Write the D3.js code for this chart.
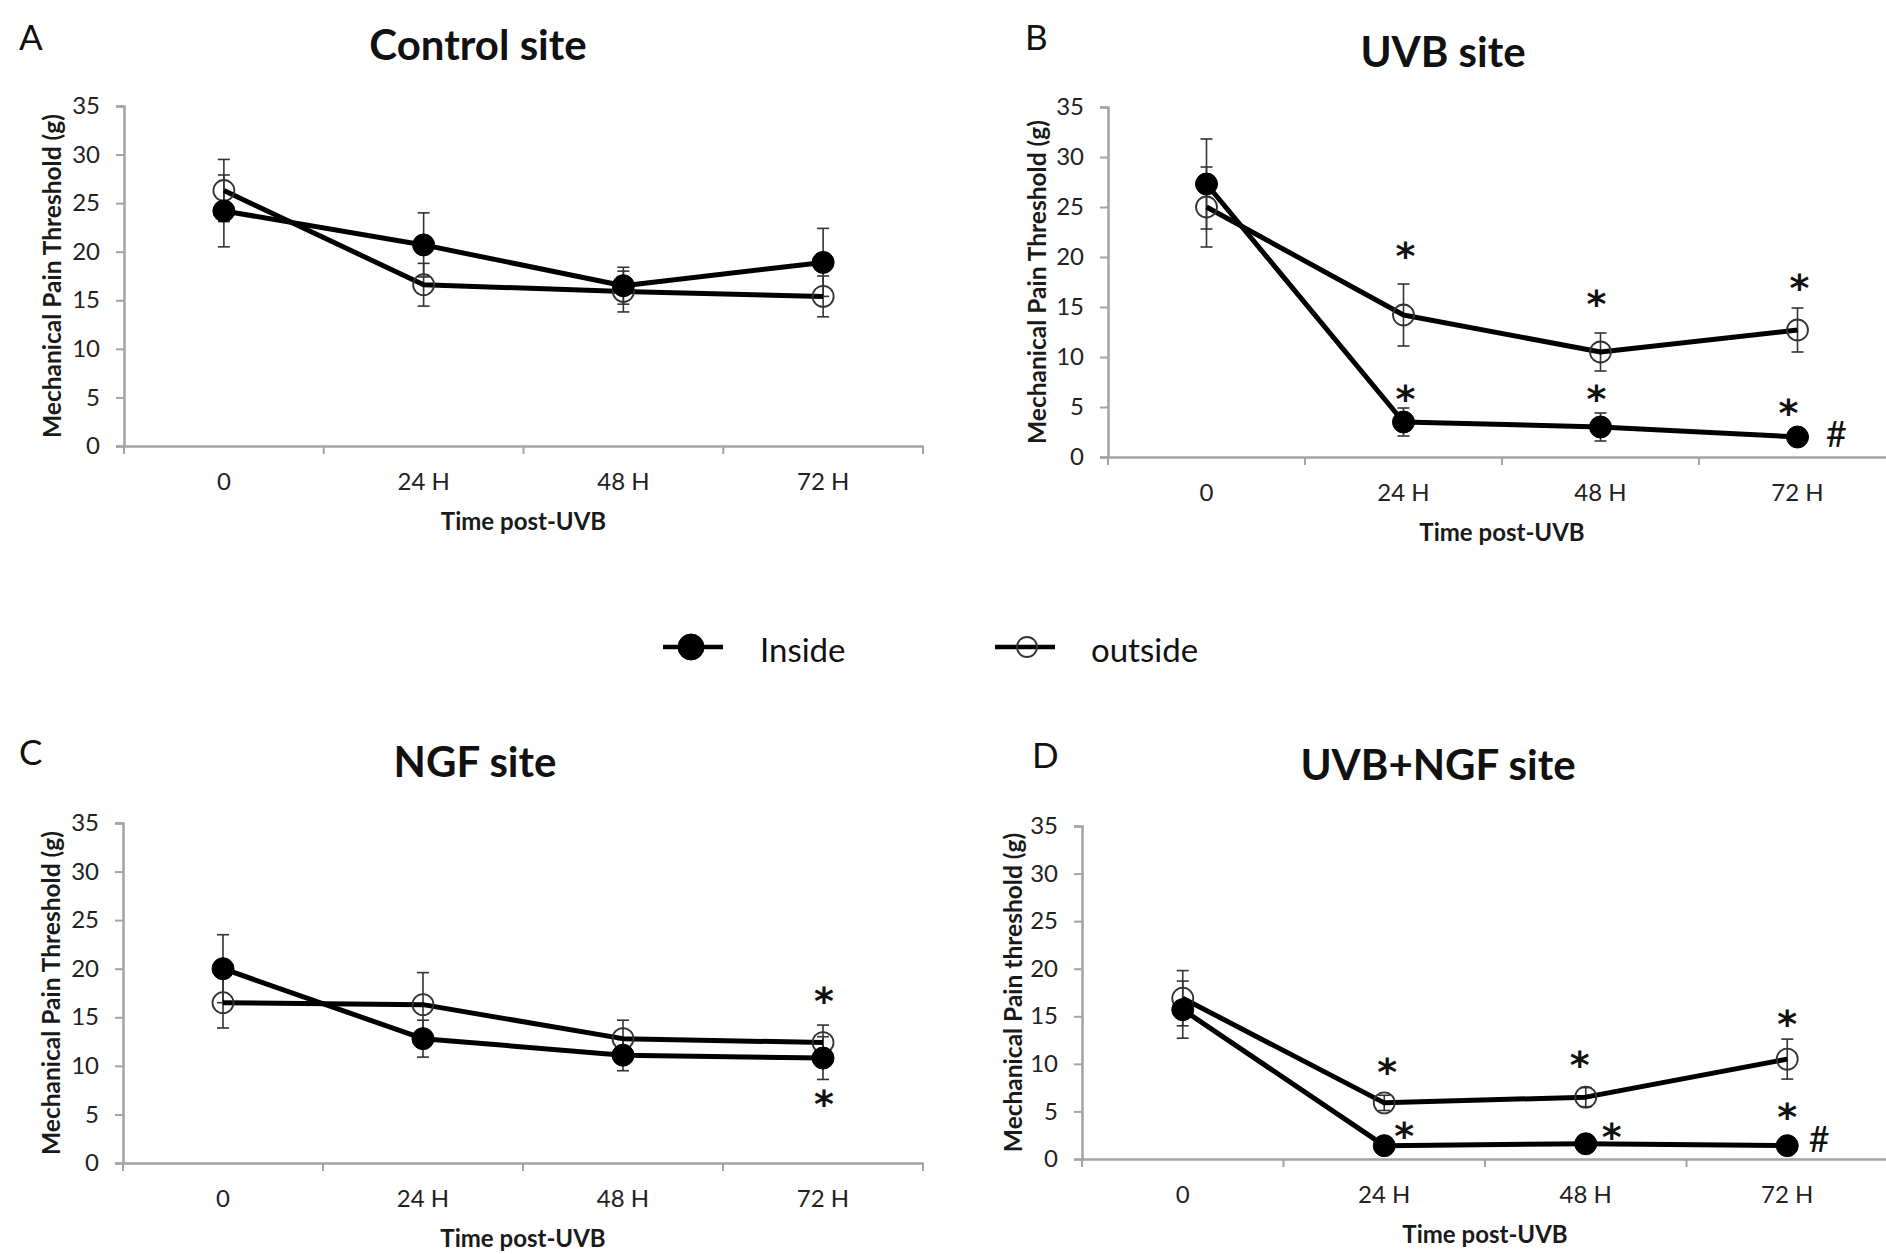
<!DOCTYPE html>
<html><head><meta charset="utf-8">
<script src="https://cdn.jsdelivr.net/npm/d3@7"></script>
<style>
html,body{margin:0;padding:0;background:#fff;}
svg{display:block;}
</style></head>
<body>
<svg id="chart" width="1886" height="1254"></svg>
<script>
// ---------------- DATA ----------------
const categories = ["0", "24 H", "48 H", "72 H"];
const yTicks = [0, 5, 10, 15, 20, 25, 30, 35];
const panelLetters = ["A", "B", "C", "D"];
const panelTitles = ["Control site", "UVB site", "NGF site", "UVB+NGF site"];
const yTitles = ["Mechanical Pain Threshold (g)", "Mechanical Pain Threshold (g)",
                 "Mechanical Pain Threshold (g)", "Mechanical Pain threshold (g)"];
const xTitle = "Time post-UVB";
const legendLabels = ["Inside", "outside"];

// Control site
const controlInside = [24.2, 20.7, 16.5, 18.9];
const controlInsideErr = [3.7, 3.3, 1.9, 3.5];
const controlOutside = [26.3, 16.6, 15.9, 15.4];
const controlOutsideErr = [3.2, 2.2, 2.1, 2.1];
// UVB site
const uvbInside = [27.3, 3.5, 3.0, 2.0];
const uvbInsideErr = [4.5, 1.4, 1.4, 0.5];
const uvbOutside = [25.0, 14.2, 10.5, 12.7];
const uvbOutsideErr = [4.0, 3.1, 1.9, 2.2];
// NGF site
const ngfInside = [20.0, 12.8, 11.1, 10.8];
const ngfInsideErr = [3.5, 1.9, 1.6, 2.2];
const ngfOutside = [16.5, 16.3, 12.8, 12.4];
const ngfOutsideErr = [2.6, 3.3, 1.9, 1.8];
// UVB+NGF site
const uvbNgfInside = [15.7, 1.4, 1.6, 1.4];
const uvbNgfInsideErr = [3.0, 0.4, 0.4, 0.4];
const uvbNgfOutside = [16.9, 5.9, 6.5, 10.5];
const uvbNgfOutsideErr = [2.9, 0.8, 1.0, 2.1];

// significance marks: [category, y value, symbol]
const uvbMarks = [["24 H", 20.7, "*"], ["24 H", 6.4, "*"], ["48 H", 15.9, "*"], ["48 H", 6.4, "*"],
                  ["72 H", 17.5, "*"], ["72 H", 5.0, "*"], ["72 H", 2.3, "#"]];
const ngfMarks = [["72 H", 17.3, "*"], ["72 H", 6.7, "*"]];
const uvbNgfMarks = [["24 H", 9.8, "*"], ["24 H", 3.0, "*"], ["48 H", 10.5, "*"], ["48 H", 2.9, "*"],
                     ["72 H", 14.8, "*"], ["72 H", 5.0, "*"], ["72 H", 2.1, "#"]];
const controlMarks = [];

// ---------------- LAYOUT ----------------
const panels = [
  {inside: controlInside, insideErr: controlInsideErr, outside: controlOutside, outsideErr: controlOutsideErr, marks: controlMarks, markDx: []},
  {inside: uvbInside, insideErr: uvbInsideErr, outside: uvbOutside, outsideErr: uvbOutsideErr, marks: uvbMarks, markDx: [2, 2, -4, -4, 2, -9, 39]},
  {inside: ngfInside, insideErr: ngfInsideErr, outside: ngfOutside, outsideErr: ngfOutsideErr, marks: ngfMarks, markDx: [1, 1]},
  {inside: uvbNgfInside, insideErr: uvbNgfInsideErr, outside: uvbNgfOutside, outsideErr: uvbNgfOutsideErr, marks: uvbNgfMarks, markDx: [3, 20, -6, 26, 0, 0, 32]}
];
const geom = [
  {x0: 124, x1: 923, y0: 446, yTop: 106, titleX: 478, titleY: 60, letterX: 19, letterY: 50, yTitleX: 51},
  {x0: 1108, x1: 1896, y0: 457, yTop: 107, titleX: 1443, titleY: 67, letterX: 1025, letterY: 50, yTitleX: 1036},
  {x0: 123, x1: 923, y0: 1163, yTop: 823, titleX: 475, titleY: 777, letterX: 19, letterY: 765, yTitleX: 50},
  {x0: 1082, x1: 1888, y0: 1159, yTop: 826, titleX: 1438, titleY: 780, letterX: 1032, letterY: 768, yTitleX: 1012}
];

const svg = d3.select("#chart");
const FONT = "Lato, 'Open Sans', sans-serif";
const AXIS_COLOR = "#a3a3a3";

panels.forEach((p, i) => {
  const g = geom[i];
  const x = d3.scaleBand().domain(categories).range([g.x0, g.x1]).padding(0);
  const cx = c => x(c) + x.bandwidth() / 2;
  const y = d3.scaleLinear().domain([0, 35]).range([g.y0, g.yTop]);
  const gp = svg.append("g");

  // panel letter
  gp.append("text").attr("x", g.letterX).attr("y", g.letterY)
    .attr("font-family", FONT).attr("font-size", 35).attr("fill", "#111")
    .text(panelLetters[i]);
  // title
  gp.append("text").attr("x", g.titleX).attr("y", g.titleY).attr("text-anchor", "middle")
    .attr("font-family", FONT).attr("font-weight", "bold").attr("font-size", 42).attr("fill", "#111")
    .text(panelTitles[i]);

  // y axis
  const ya = gp.append("g").attr("transform", `translate(${g.x0},0)`)
    .call(d3.axisLeft(y).tickValues(yTicks).tickSize(8).tickPadding(16).tickFormat(d3.format("d")));
  ya.select(".domain").attr("stroke", AXIS_COLOR).attr("stroke-width", 2.5);
  ya.selectAll(".tick line").attr("stroke", AXIS_COLOR).attr("stroke-width", 2);
  ya.selectAll(".tick text").attr("font-family", FONT).attr("font-size", 24).attr("fill", "#222");

  // x axis (labels at band centres, ticks at band boundaries)
  const xa = gp.append("g").attr("transform", `translate(0,${g.y0})`)
    .call(d3.axisBottom(x).tickSize(0).tickPadding(27).tickSizeOuter(0));
  xa.select(".domain").attr("stroke", AXIS_COLOR).attr("stroke-width", 2.5);
  xa.selectAll(".tick text").attr("font-family", FONT).attr("font-size", 24).attr("fill", "#222");
  const bounds = categories.map(c => x(c)).concat([x.range()[1]]);
  gp.selectAll(".bt").data(bounds).join("line")
    .attr("x1", d => d).attr("x2", d => d).attr("y1", g.y0).attr("y2", g.y0 + 8)
    .attr("stroke", AXIS_COLOR).attr("stroke-width", 2);

  // axis titles
  gp.append("text").attr("x", (g.x0 + g.x1) / 2).attr("y", g.y0 + 84).attr("text-anchor", "middle")
    .attr("font-family", FONT).attr("font-weight", "bold").attr("font-size", 24).attr("fill", "#1a1a1a")
    .text(xTitle);
  gp.append("text")
    .attr("transform", `translate(${g.yTitleX},${(g.y0 + g.yTop) / 2}) rotate(-90)`)
    .attr("text-anchor", "middle").attr("dominant-baseline", "central")
    .attr("font-family", FONT).attr("font-weight", "bold").attr("font-size", 24.5).attr("fill", "#1a1a1a")
    .text(yTitles[i]);

  const series = [
    {vals: p.outside, err: p.outsideErr, filled: false},
    {vals: p.inside, err: p.insideErr, filled: true}
  ];
  const line = d3.line().x((d, k) => cx(categories[k])).y(d => y(d));

  // error bars
  series.forEach(s => {
    const eg = gp.append("g");
    s.vals.forEach((v, k) => {
      const X = cx(categories[k]);
      eg.append("line").attr("x1", X).attr("x2", X).attr("y1", y(v - s.err[k])).attr("y2", y(v + s.err[k]))
        .attr("stroke", "#333").attr("stroke-width", 1.6);
      [v - s.err[k], v + s.err[k]].forEach(e => {
        eg.append("line").attr("x1", X - 6).attr("x2", X + 6).attr("y1", y(e)).attr("y2", y(e))
          .attr("stroke", "#333").attr("stroke-width", 1.6);
      });
    });
  });
  // lines
  series.forEach(s => {
    gp.append("path").datum(s.vals).attr("d", line)
      .attr("fill", "none").attr("stroke", "#000").attr("stroke-width", 5).attr("stroke-linejoin", "round");
  });
  // markers
  series.forEach(s => {
    gp.selectAll(null).data(s.vals).join("circle")
      .attr("cx", (d, k) => cx(categories[k])).attr("cy", d => y(d))
      .attr("r", s.filled ? 11 : 10.5)
      .attr("fill", s.filled ? "#000" : "none")
      .attr("stroke", s.filled ? "#000" : "#333").attr("stroke-width", s.filled ? 1 : 1.8);
  });
  // significance marks
  p.marks.forEach((m, k) => {
    const X = cx(m[0]) + (p.markDx[k] || 0);
    if (m[2] === "*") {
      gp.append("text").attr("x", X).attr("y", y(m[1]) + 19).attr("text-anchor", "middle")
        .attr("font-family", "'DejaVu Sans', sans-serif").attr("font-weight", "bold").attr("font-size", 38).attr("fill", "#111")
        .text(m[2]);
    } else {
      gp.append("text").attr("x", X).attr("y", y(m[1]) + 13).attr("text-anchor", "middle")
        .attr("font-family", FONT).attr("font-size", 36).attr("fill", "#111")
        .text(m[2]);
    }
  });
});

// ---------------- LEGEND ----------------
const legend = svg.append("g");
const legendItems = [
  {label: legendLabels[0], filled: true, lx0: 663, lx1: 723, cx: 691, tx: 760},
  {label: legendLabels[1], filled: false, lx0: 995, lx1: 1055, cx: 1027, tx: 1091}
];
legendItems.forEach(it => {
  legend.append("line").attr("x1", it.lx0).attr("x2", it.lx1).attr("y1", 647).attr("y2", 647)
    .attr("stroke", "#000").attr("stroke-width", 4.5);
  legend.append("circle").attr("cx", it.cx).attr("cy", 647).attr("r", it.filled ? 13 : 10)
    .attr("fill", it.filled ? "#000" : "none").attr("stroke", it.filled ? "#000" : "#333").attr("stroke-width", it.filled ? 1 : 1.8);
  legend.append("text").attr("x", it.tx).attr("y", 662)
    .attr("font-family", FONT).attr("font-size", 33).attr("fill", "#111").text(it.label);
});
</script>
</body></html>
